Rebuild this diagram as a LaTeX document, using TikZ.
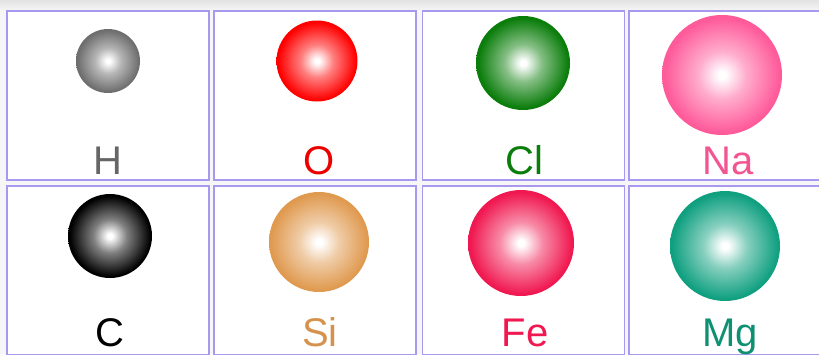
\documentclass[tikz,border=0pt]{standalone}
\usepackage{fontspec}
\setmainfont{Liberation Sans}
\usepackage{xcolor}
\usetikzlibrary{positioning}
\definecolor{framelilac}{HTML}{A898F0}
\definecolor{pagegray}{HTML}{F6F6F6}
\definecolor{hgray}{HTML}{6E6E6E}
\definecolor{ored}{HTML}{FF0000}
\definecolor{clgreen}{HTML}{0A7D0A}
\definecolor{napink}{HTML}{FF5A9A}
\definecolor{cblack}{HTML}{000000}
\definecolor{sitan}{HTML}{E09A50}
\definecolor{fecrimson}{HTML}{F01850}
\definecolor{mgteal}{HTML}{10A080}
\colorlet{atomcol}{gray}
\pgfdeclareradialshading[atomcol]{atomball}{\pgfpointorigin}{color(0bp)=(white); color(1.5bp)=(white); color(10bp)=(atomcol!50!white); color(24bp)=(atomcol); color(50bp)=(atomcol)}
\tikzset{
  cell/.style={draw=framelilac, line width=1.5pt, fill=white, minimum width=202pt, minimum height=169pt, inner sep=0pt},
  atom/.style={circle, shade, shading=atomball, draw=none, inner sep=0pt, minimum size=#1},
  atomcolor/.code={\colorlet{atomcol}{#1}},
  symbol/.style={anchor=base, inner sep=0pt, font=\fontsize{40}{42}\selectfont}
}

\begin{document}
\begin{tikzpicture}[x=1pt, y=-1pt]
  \useasboundingbox (0,0) rectangle (819,354);
  \clip (0,0) rectangle (819,354);
  \fill[pagegray] (0,0) rectangle (819,354);
  \shade[top color=black!11, bottom color=pagegray] (0,0) rectangle (819,11);

  % first row
  \node[cell] (cellH) at (108,95.5) {};
  \node[cell] (cellO) at (315,95.5) {};
  \node[cell] (cellCl) at (523.5,95.5) {};
  \node[cell] (cellNa) at (730,95.5) {};
  % second row
  \node[cell] (cellC) at (108,270.5) {};
  \node[cell] (cellSi) at (315,270.5) {};
  \node[cell] (cellFe) at (523.5,270.5) {};
  \node[cell] (cellMg) at (730,270.5) {};

  \node[atom=64pt, atomcolor=hgray] (ballH) at (108,61) {};
  \node[atom=81pt, atomcolor=ored] (ballO) at (317,61) {};
  \node[atom=94pt, atomcolor=clgreen] (ballCl) at (523,63) {};
  \node[atom=120pt, atomcolor=napink] (ballNa) at (722,75) {};
  \node[atom=84pt, atomcolor=cblack] (ballC) at (110,236) {};
  \node[atom=100pt, atomcolor=sitan] (ballSi) at (319,242) {};
  \node[atom=106pt, atomcolor=fecrimson] (ballFe) at (521,243) {};
  \node[atom=110pt, atomcolor=mgteal] (ballMg) at (725,246) {};

  \node[symbol, text=black!60] (labH) at (108,174) {H};
  \node[symbol, text=ored!92!black] (labO) at (319,174) {O};
  \node[symbol, text=clgreen] (labCl) at (524,174) {Cl};
  \node[symbol, text=napink!95!black] (labNa) at (728,174) {Na};
  \node[symbol, text=cblack] (labC) at (110,346) {C};
  \node[symbol, text=sitan!95!black] (labSi) at (320,346) {Si};
  \node[symbol, text=fecrimson] (labFe) at (525,346) {Fe};
  \node[symbol, text=mgteal!90!black] (labMg) at (730,346) {Mg};
\end{tikzpicture}
\end{document}
